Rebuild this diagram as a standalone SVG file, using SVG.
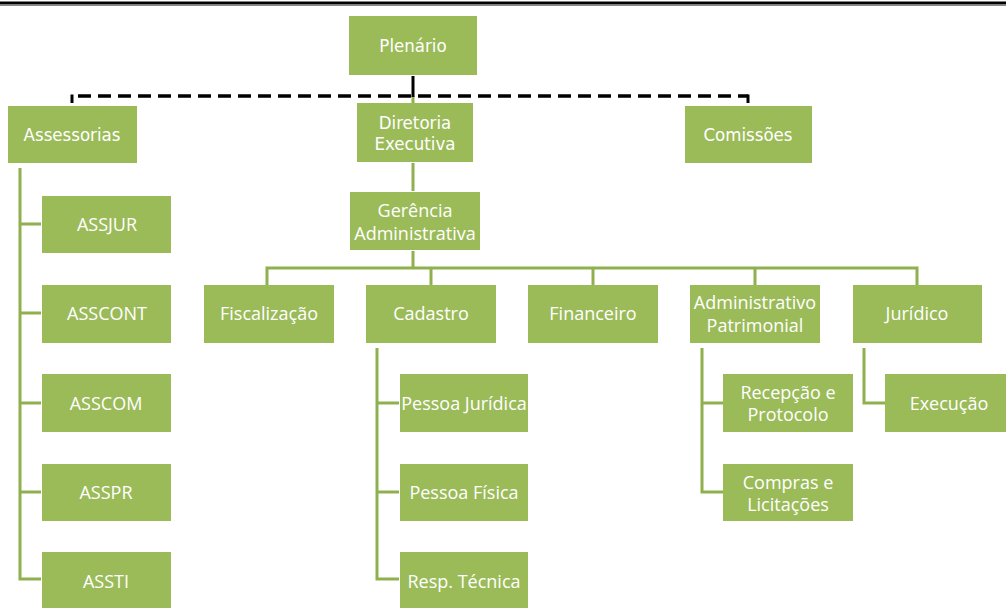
<svg xmlns="http://www.w3.org/2000/svg" width="1006" height="608" viewBox="0 0 1006 608">
<style>
.box{fill:#9BBB59}
.t{fill:#ffffff;font-family:"Open Sans","Noto Sans",sans-serif;font-size:18px;text-anchor:middle;dominant-baseline:central}
.tc{fill:#ffffff;font-family:"DejaVu Sans Condensed","Liberation Sans",sans-serif;font-stretch:condensed;font-size:18.5px;text-anchor:middle;dominant-baseline:central}
.ln{stroke:#8FB04F;stroke-width:3;fill:none}
.dash{stroke:#000;stroke-width:3.5;fill:none;stroke-dasharray:13 7}
</style>
<rect width="1006" height="608" fill="#fff"/>
<line x1="0" y1="3" x2="1006" y2="3" stroke="#000" stroke-width="3"/>
<line x1="0" y1="5.5" x2="1006" y2="5.5" stroke="#888" stroke-width="1"/>
<g id="connectors">
<line class="ln" x1="413" y1="96" x2="413" y2="103"/>
<line x1="78" y1="96" x2="748" y2="96" class="dash"/>
<line x1="72" y1="94.5" x2="72" y2="103" stroke="#000" stroke-width="3"/>
<line x1="748" y1="94.5" x2="748" y2="103" stroke="#000" stroke-width="3"/>
<line x1="413" y1="76" x2="413" y2="97" stroke="#000" stroke-width="3"/>
<line class="ln" x1="413" y1="163" x2="413" y2="191"/>
<path class="ln" d="M413 251 V268"/>
<path class="ln" d="M267 285 V268 H917 V285"/>
<path class="ln" d="M431 268 V285 M593 268 V285 M755 268 V285"/>
<path class="ln" d="M20 168 V579 H41 M20 224 H41 M20 313 H41 M20 403 H41 M20 492 H41"/>
<path class="ln" d="M377 348 V579 H399 M377 403 H399 M377 492 H399"/>
<path class="ln" d="M702 348 V492 H723 M702 403 H723"/>
<path class="ln" d="M864 348 V403 H885"/>
</g>
<g id="plenario"><rect class="box" x="349" y="16" width="128" height="59"/><text class="tc" x="413" y="45">Plenário</text></g>
<g id="assessorias"><rect class="box" x="8" y="106" width="129" height="57"/><text class="tc" x="72" y="134">Assessorias</text></g>
<g id="diretoria"><rect class="box" x="357" y="103" width="116" height="59"/><text class="tc" x="415" y="122">Diretoria</text><text class="tc" x="415" y="143">Executiva</text></g>
<g id="comissoes"><rect class="box" x="685" y="106" width="127" height="57"/><text class="tc" x="748" y="134">Comissões</text></g>
<g id="gerencia"><rect class="box" x="350" y="192" width="130" height="58"/><text class="t" x="415" y="210">Gerência</text><text class="t" x="415" y="233">Administrativa</text></g>
<g id="fiscalizacao"><rect class="box" x="204" y="285" width="130" height="58"/><text class="t" x="269" y="313">Fiscalização</text></g>
<g id="cadastro"><rect class="box" x="366" y="285" width="130" height="58"/><text class="t" x="431" y="313">Cadastro</text></g>
<g id="financeiro"><rect class="box" x="528" y="285" width="130" height="58"/><text class="t" x="593" y="313">Financeiro</text></g>
<g id="administrativo"><rect class="box" x="690" y="285" width="130" height="58"/><text class="t" x="755" y="302">Administrativo</text><text class="t" x="755" y="325">Patrimonial</text></g>
<g id="juridico"><rect class="box" x="853" y="285" width="129" height="58"/><text class="t" x="917" y="313">Jurídico</text></g>
<g id="assjur"><rect class="box" x="42" y="196" width="129" height="57"/><text class="t" x="107" y="224">ASSJUR</text></g>
<g id="asscont"><rect class="box" x="42" y="285" width="129" height="58"/><text class="t" x="107" y="313">ASSCONT</text></g>
<g id="asscom"><rect class="box" x="42" y="374" width="129" height="58"/><text class="t" x="106" y="403">ASSCOM</text></g>
<g id="asspr"><rect class="box" x="42" y="464" width="129" height="57"/><text class="t" x="106" y="492">ASSPR</text></g>
<g id="assti"><rect class="box" x="42" y="552" width="129" height="56"/><text class="t" x="106" y="581">ASSTI</text></g>
<g id="pj"><rect class="box" x="400" y="374" width="128" height="58"/><text class="t" x="464" y="403">Pessoa Jurídica</text></g>
<g id="pf"><rect class="box" x="400" y="464" width="128" height="57"/><text class="t" x="464" y="492">Pessoa Física</text></g>
<g id="rt"><rect class="box" x="400" y="552" width="128" height="56"/><text class="t" x="464" y="581">Resp. Técnica</text></g>
<g id="recepcao"><rect class="box" x="723" y="374" width="130" height="58"/><text class="t" x="788" y="392">Recepção e</text><text class="t" x="788" y="414">Protocolo</text></g>
<g id="compras"><rect class="box" x="723" y="464" width="130" height="57"/><text class="t" x="788" y="482">Compras e</text><text class="t" x="788" y="504">Licitações</text></g>
<g id="execucao"><rect class="box" x="885" y="374" width="121" height="58"/><text class="t" x="949" y="403">Execução</text></g>
</svg>
